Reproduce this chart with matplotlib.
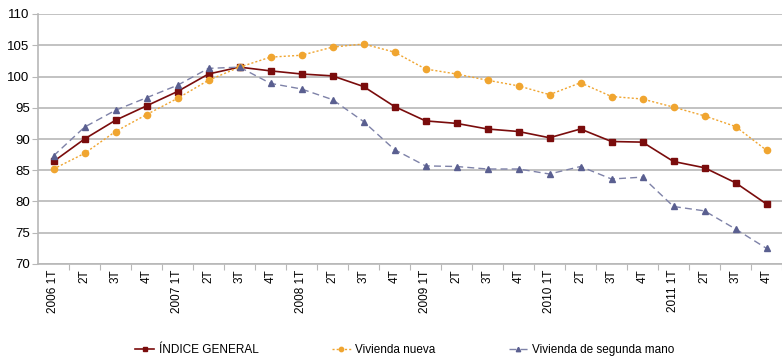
import matplotlib
matplotlib.use("Agg")
import matplotlib.pyplot as plt
import numpy as np

plt.rcParams['font.family'] = ['Liberation Sans', 'DejaVu Sans']

# Quarters 2006 1T .. 2011 4T
quarters = ['2006 1T', '2T', '3T', '4T',
            '2007 1T', '2T', '3T', '4T',
            '2008 1T', '2T', '3T', '4T',
            '2009 1T', '2T', '3T', '4T',
            '2010 1T', '2T', '3T', '4T',
            '2011 1T', '2T', '3T', '4T']

indice_general = [86.4, 90.0, 93.0, 95.3, 97.6, 100.4, 101.5, 100.9,
                  100.4, 100.1, 98.4, 95.2, 92.9, 92.5, 91.6, 91.2,
                  90.2, 91.6, 89.6, 89.5, 86.4, 85.4, 83.0, 79.6]
vivienda_nueva = [85.2, 87.7, 91.2, 93.9, 96.5, 99.4, 101.5, 103.1,
                  103.4, 104.7, 105.2, 103.9, 101.2, 100.4, 99.4, 98.5,
                  97.1, 99.0, 96.8, 96.4, 95.1, 93.7, 92.0, 88.2]
vivienda_segunda = [87.3, 91.9, 94.6, 96.6, 98.6, 101.3, 101.5, 98.9,
                    98.0, 96.3, 92.8, 88.3, 85.7, 85.6, 85.2, 85.2,
                    84.4, 85.6, 83.6, 83.9, 79.2, 78.5, 75.6, 72.5]

x = np.arange(len(quarters))

fig = plt.figure(figsize=(7.82, 3.6), dpi=100)
ax = fig.add_axes([38 / 782, 96 / 360, 744 / 782, 250 / 360])

grid_c = '#b8b8b8'
ax.set_ylim(70, 110)
ax.set_yticks(range(70, 111, 5))
ax.yaxis.grid(True, color=grid_c, linewidth=1.2)
ax.set_axisbelow(True)

l1, = ax.plot(x, indice_general, color='#7a0c0c', linewidth=1.2,
              marker='s', markersize=4.5, label='ÍNDICE GENERAL')
l2, = ax.plot(x, vivienda_nueva, color='#f0a530', linewidth=1.0, linestyle=(0, (1.5, 1.5)),
              marker='o', markersize=4.5, label='Vivienda nueva')
l3, = ax.plot(x, vivienda_segunda, color='#7e82a8', linewidth=1.0, linestyle=(0, (5, 3)),
              marker='^', markersize=4.5, markerfacecolor='#5a5f90',
              markeredgecolor='#5a5f90', label='Vivienda de segunda mano')

ax.set_xlim(-0.5, -0.5 + 744 / 31.5)
ax.set_xticks(x + 0.5, minor=False)
ax.set_xticklabels([])
ax.set_xticks(x, minor=True)
ax.set_xticklabels(quarters, minor=True, rotation=90, fontsize=8.5)
ax.tick_params(axis='x', which='minor', length=0, pad=4)
ax.tick_params(axis='x', which='major', length=4, color=grid_c)
ax.tick_params(axis='y', length=4, color=grid_c, labelsize=9.5, pad=2)

for s in ['top', 'right']:
    ax.spines[s].set_visible(False)
ax.spines['left'].set_color(grid_c)
ax.spines['bottom'].set_color(grid_c)
ax.spines['left'].set_linewidth(1.2)
ax.spines['bottom'].set_linewidth(1.2)

fig.legend(handles=[l1, l2, l3], loc='center', bbox_to_anchor=(405 / 782, 10 / 360),
           ncol=3, frameon=False, fontsize=8.5, handlelength=1.6, handletextpad=0.4,
           columnspacing=6.2, markerscale=0.7)

fig.savefig('out.png', dpi=100)
